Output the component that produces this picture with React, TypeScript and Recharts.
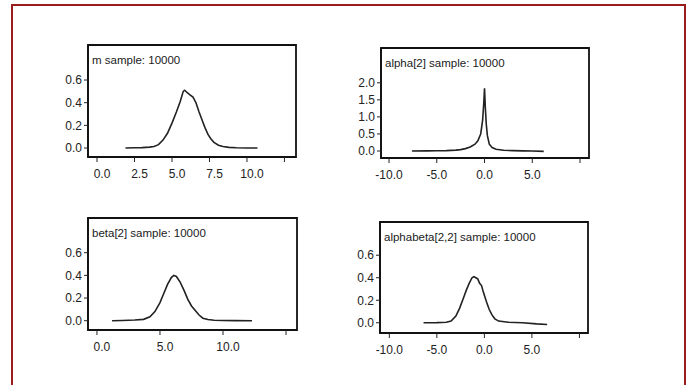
import React from 'react';
import { LineChart, Line, XAxis, YAxis, ReferenceArea } from 'recharts';

// ---- data ----
const mDensity = [
  [1.9, 0], [2.5, 0.002], [3.0, 0.004], [3.5, 0.008], [3.8, 0.013], [4.1, 0.03], [4.4, 0.07],
  [4.7, 0.13], [5.0, 0.22], [5.3, 0.32], [5.55, 0.41], [5.75, 0.5], [5.85, 0.51], [6.0, 0.49],
  [6.2, 0.47], [6.4, 0.45], [6.6, 0.4], [6.8, 0.32], [7.0, 0.25], [7.2, 0.18], [7.4, 0.12],
  [7.6, 0.08], [7.8, 0.05], [8.1, 0.025], [8.4, 0.013], [8.8, 0.006], [9.3, 0.003], [10.0, 0.001], [10.7, 0],
];
const alphaDensity = [
  [-7.6, 0], [-6, 0.003], [-5, 0.006], [-4, 0.012], [-3, 0.025], [-2.5, 0.04], [-2, 0.07],
  [-1.5, 0.12], [-1.0, 0.2], [-0.7, 0.3], [-0.4, 0.5], [-0.2, 0.9], [-0.08, 1.4], [0, 1.84],
  [0.08, 1.3], [0.18, 0.8], [0.3, 0.45], [0.5, 0.2], [0.8, 0.1], [1.2, 0.05], [2, 0.02],
  [3, 0.01], [4, 0.004], [5, 0.0], [6.2, -0.01],
];
const betaDensity = [
  [1.2, 0], [2, 0.002], [3, 0.006], [3.7, 0.012], [4.2, 0.035], [4.6, 0.08], [5.0, 0.16],
  [5.3, 0.24], [5.6, 0.32], [5.9, 0.38], [6.1, 0.4], [6.3, 0.39], [6.6, 0.34], [6.9, 0.27],
  [7.2, 0.19], [7.5, 0.13], [7.8, 0.09], [8.1, 0.05], [8.4, 0.022], [8.8, 0.01], [9.3, 0.004],
  [10, 0.002], [11, 0.001], [12.3, 0],
];
const alphabetaDensity = [
  [-6.4, 0], [-5, 0.001], [-4, 0.004], [-3.5, 0.015], [-3.0, 0.06], [-2.6, 0.13], [-2.2, 0.22],
  [-1.9, 0.29], [-1.6, 0.35], [-1.3, 0.4], [-1.1, 0.41], [-0.9, 0.4], [-0.7, 0.39], [-0.5, 0.35],
  [-0.3, 0.33], [-0.1, 0.27], [0.2, 0.19], [0.5, 0.12], [0.8, 0.07], [1.1, 0.035], [1.5, 0.015],
  [2.5, 0.005], [4, 0.0], [5.5, -0.01], [6.6, -0.015],
];

const panelTitles = ['m sample: 10000', 'alpha[2] sample: 10000', 'beta[2] sample: 10000', 'alphabeta[2,2] sample: 10000'];

const xTicksM = [0, 2.5, 5, 7.5, 10, 12.5];
const xLabelsM = ['0.0', '2.5', '5.0', '7.5', '10.0', ''];
const xTicksAlpha = [-10, -5, 0, 5, 10];
const xLabelsAlpha = ['-10.0', '-5.0', '0.0', '5.0', ''];
const xTicksBeta = [0, 5, 10, 15];
const xLabelsBeta = ['0.0', '5.0', '10.0', ''];
const yTicksSmall = [0, 0.2, 0.4, 0.6];
const yLabelsSmall = ['0.0', '0.2', '0.4', '0.6'];
const yTicksAlpha = [0, 0.5, 1, 1.5, 2];
const yLabelsAlpha = ['0.0', '0.5', '1.0', '1.5', '2.0'];

const toRows = (arr: number[][]) => arr.map(([x, y]) => ({ x, y }));

const FONT = '"Liberation Sans", Arial, sans-serif';

type PanelProps = {
  title: string;
  data: number[][];
  xDomain: [number, number];
  yDomain: [number, number];
  xTicks: number[];
  xLabels: string[];
  yTicks: number[];
  yLabels: string[];
  left: number;
  top: number;
  width: number;
  height: number;
  dx: number;
};

function Panel(p: PanelProps) {
  const xFmt = (v: number) => {
    const i = p.xTicks.indexOf(v);
    return i >= 0 ? p.xLabels[i] : '';
  };
  const yFmt = (v: number) => {
    const i = p.yTicks.indexOf(v);
    return i >= 0 ? p.yLabels[i] : '';
  };
  return (
    <div style={{ position: 'absolute', left: p.left, top: p.top }}>
      <LineChart width={p.width} height={p.height} data={toRows(p.data)}
        margin={{ top: 5, right: 5, bottom: 0, left: 0 }}>
        <XAxis dataKey="x" type="number" domain={p.xDomain} ticks={p.xTicks} allowDataOverflow
          tickFormatter={xFmt} height={30} tickSize={5} tickMargin={7}
          axisLine={{ stroke: '#111', strokeWidth: 1.8 }} tickLine={{ stroke: '#222' }}
          tick={{ fontSize: 12, fill: '#222', fontFamily: FONT, dx: p.dx }} interval={0} />
        <YAxis type="number" domain={p.yDomain} ticks={p.yTicks} allowDataOverflow
          tickFormatter={yFmt} width={35} tickSize={4} tickMargin={2}
          axisLine={{ stroke: '#111', strokeWidth: 1.6 }} tickLine={{ stroke: '#222' }}
          tick={{ fontSize: 12, fill: '#222', fontFamily: FONT }} interval={0} />
        <ReferenceArea x1={p.xDomain[0]} x2={p.xDomain[1]} y1={p.yDomain[0]} y2={p.yDomain[1]}
          fill="none" fillOpacity={0} stroke="#111" strokeWidth={1.8} ifOverflow="visible"
          label={(lp: any) => {
            const vb = lp.viewBox || { x: 0, y: 0 };
            return (
              <text x={vb.x + 4} y={vb.y + 19} fontSize={11.5} fill="#1a1a1a" fontFamily={FONT}>{p.title}</text>
            );
          }} />
        <Line type="linear" dataKey="y" stroke="#222" strokeWidth={1.6} dot={false}
          isAnimationActive={false} />
      </LineChart>
    </div>
  );
}

export default function App() {
  return (
    <div style={{ position: 'absolute', left: 0, top: 0, width: 690, height: 385, overflow: 'hidden', background: '#fff' }}>
      <div style={{ position: 'absolute', left: 11, top: 4, width: 671, height: 400, border: '2px solid #9b1c1c' }} />
      <Panel title={panelTitles[0]} data={mDensity} xDomain={[-0.6, 13.27]} yDomain={[-0.079, 0.909]}
        xTicks={xTicksM} xLabels={xLabelsM} yTicks={yTicksSmall} yLabels={yLabelsSmall}
        left={53} top={40} width={248} height={147} dx={5} />
      <Panel title={panelTitles[1]} data={alphaDensity} xDomain={[-10.84, 10.94]} yDomain={[-0.205, 3.02]}
        xTicks={xTicksAlpha} xLabels={xLabelsAlpha} yTicks={yTicksAlpha} yLabels={yLabelsAlpha}
        left={346} top={43} width={248} height={145} dx={0} />
      <Panel title={panelTitles[2]} data={betaDensity} xDomain={[-0.71, 15.87]} yDomain={[-0.082, 0.906]}
        xTicks={xTicksBeta} xLabels={xLabelsBeta} yTicks={yTicksSmall} yLabels={yLabelsSmall}
        left={53} top={213} width={249} height={147} dx={5} />
      <Panel title={panelTitles[3]} data={alphabetaDensity} xDomain={[-10.98, 10.9]} yDomain={[-0.091, 0.895]}
        xTicks={xTicksAlpha} xLabels={xLabelsAlpha} yTicks={yTicksSmall} yLabels={yLabelsSmall}
        left={345} top={217} width={248} height={146} dx={0} />
    </div>
  );
}
